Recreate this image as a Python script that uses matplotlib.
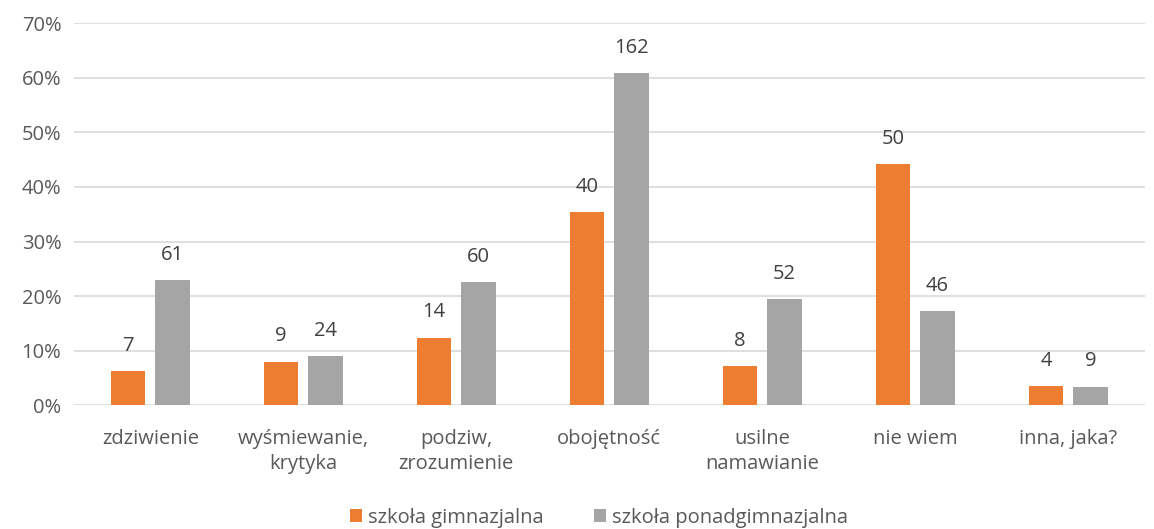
import matplotlib.pyplot as plt
import numpy as np

plt.rcParams['font.family'] = ['Open Sans', 'DejaVu Sans']

categories = ['zdziwienie', 'wyśmiewanie,\nkrytyka', 'podziw,\nzrozumienie', 'obojętność',
              'usilne\nnamawianie', 'nie wiem', 'inna, jaka?']
gim_pct = [6.2, 8.0, 12.4, 35.4, 7.1, 44.2, 3.5]
gim_n = [7, 9, 14, 40, 8, 50, 4]
pon_pct = [22.9, 9.0, 22.6, 60.9, 19.5, 17.3, 3.4]
pon_n = [61, 24, 60, 162, 52, 46, 9]

orange = '#ED7D31'
grey = '#A5A5A5'
txt = '#595959'
fs = 14.5

fig = plt.figure(figsize=(11.54, 5.29), dpi=100)
ax = fig.add_axes([0.064, 0.234, 0.928, 0.722])

x = np.arange(len(categories))
off = 0.145
w = 0.225
b1 = ax.bar(x - off, gim_pct, w, color=orange, label='szkoła gimnazjalna', zorder=3)
b2 = ax.bar(x + off, pon_pct, w, color=grey, label='szkoła ponadgimnazjalna', zorder=3)

for bars, counts in ((b1, gim_n), (b2, pon_n)):
    for b, n in zip(bars, counts):
        ax.text(b.get_x() + b.get_width() / 2, b.get_height() + 2.8, str(n),
                ha='center', va='bottom', fontsize=fs, color='#404040')

ax.set_ylim(0, 70)
ax.set_xlim(-0.5, 6.5)
ax.set_yticks(range(0, 71, 10))
ax.set_yticklabels([f'{v}%' for v in range(0, 71, 10)])
ax.set_xticks(x)
ax.set_xticklabels(categories, linespacing=1.35)
ax.tick_params(length=0, labelsize=fs, colors=txt)
ax.tick_params(axis='x', pad=17)
ax.tick_params(axis='y', pad=9)
ax.grid(axis='y', color='#D9D9D9', linewidth=1.2, zorder=0)
for s in ax.spines.values():
    s.set_visible(False)

leg = fig.legend(loc='lower center', ncol=2, frameon=False, fontsize=fs,
                 bbox_to_anchor=(0.519, -0.032), handlelength=0.6, handleheight=0.6,
                 columnspacing=2.5, handletextpad=0.3)
for t in leg.get_texts():
    t.set_color(txt)

fig.savefig('out.png', dpi=100)
